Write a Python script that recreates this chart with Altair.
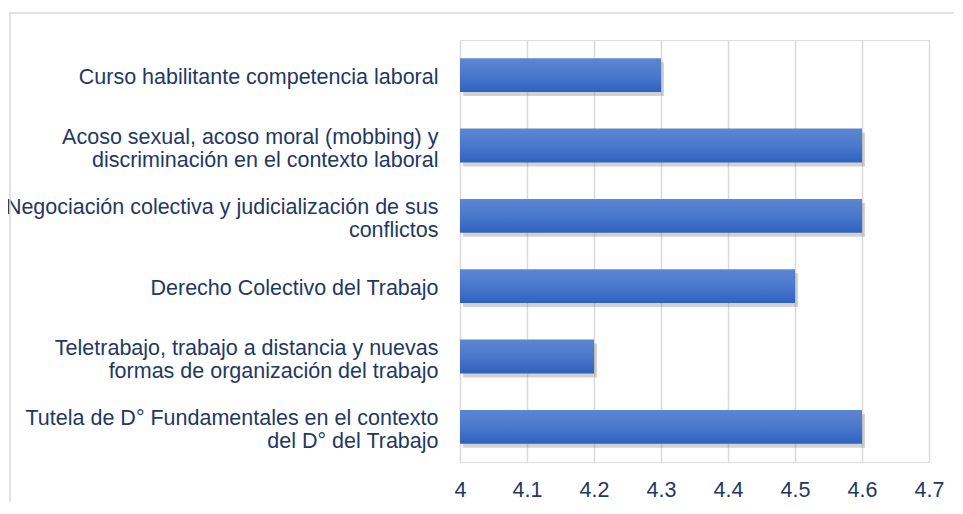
import altair as alt
import pandas as pd

# categories (lines separated by "|")
categories = [
    "Curso habilitante competencia laboral",
    "Acoso sexual, acoso moral (mobbing) y|discriminación en el contexto laboral",
    "Negociación colectiva y judicialización de sus|conflictos",
    "Derecho Colectivo del Trabajo",
    "Teletrabajo, trabajo a distancia y nuevas|formas de organización del trabajo",
    "Tutela de D° Fundamentales en el contexto|del D° del Trabajo",
]
values = [4.3, 4.6, 4.6, 4.5, 4.2, 4.6]
x_ticks = [4.0, 4.1, 4.2, 4.3, 4.4, 4.5, 4.6, 4.7]
x_min, x_max = 4.0, 4.7

df = pd.DataFrame({"cat": categories, "val": values, "base": [x_min] * len(values)})

FONT = "Liberation Sans"
TXT = "#1f3864"

x_enc = alt.X(
    "val:Q",
    scale=alt.Scale(domain=[x_min, x_max], zero=False, nice=False),
    axis=alt.Axis(
        values=x_ticks,
        labelExpr="datum.value == 4 ? '4' : format(datum.value, '.1f')",
        title=None,
        domain=False,
        ticks=False,
        grid=True,
        gridColor="#d9d9d9",
        gridWidth=1.5,
        labelFont=FONT,
        labelFontSize=21.5,
        labelColor=TXT,
        labelPadding=17,
        labelFlush=False,
    ),
)
y_enc = alt.Y(
    "cat:N",
    sort=None,
    scale=alt.Scale(paddingInner=0.52, paddingOuter=0.26),
    axis=alt.Axis(
        title=None,
        domain=False,
        ticks=False,
        grid=False,
        labelExpr="split(datum.label, '|')",
        labelFont=FONT,
        labelFontSize=21.5,
        labelColor=TXT,
        labelLineHeight=23,
        labelPadding=22,
        labelLimit=0,
        labelAlign="right",
        labelOffset={"condition": {"test": "indexof(datum.value, '|') >= 0", "value": -8}, "value": 3},
    ),
)

base = alt.Chart(df)

shadow = base.mark_bar(color="#7f7f7f", opacity=0.35, xOffset=3, yOffset=4, x2Offset=3).encode(
    x=x_enc, x2="base:Q", y=y_enc
)

bars = base.mark_bar(
    color=alt.Gradient(
        gradient="linear",
        x1=0, y1=0, x2=0, y2=1,
        stops=[
            alt.GradientStop(color="#5d86d2", offset=0),
            alt.GradientStop(color="#4a78cc", offset=0.5),
            alt.GradientStop(color="#2f61bf", offset=1),
        ],
    )
).encode(x=x_enc, x2="base:Q", y=y_enc)

frame = alt.Chart(alt.Data(values=[{}])).mark_rect(
    fill="transparent", stroke="#d9d9d9", strokeWidth=1.5
).encode(
    x=alt.value(-450), x2=alt.value(520), y=alt.value(-27), y2=alt.value(500)
)

chart = alt.layer(frame, shadow, bars).properties(
    width=469,
    height=422,
    autosize=alt.AutoSizeParams(type="none"),
    padding={"left": 452, "top": 32, "right": 25, "bottom": 40},
).configure_view(stroke=None).configure(background="white")

chart.save("out.html", embed_options={"renderer": "svg", "actions": False})
